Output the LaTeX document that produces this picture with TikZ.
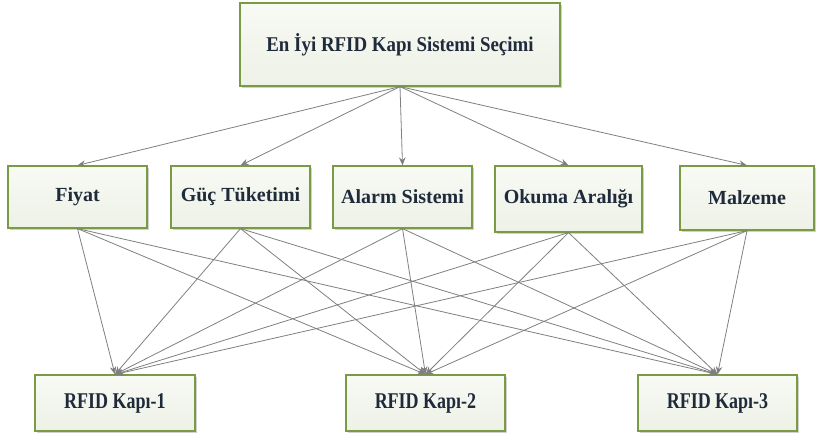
\documentclass[tikz,border=0pt]{standalone}
\usepackage{fontspec}
\setmainfont{Liberation Serif}
\newfontfamily\goalfont[FakeStretch=0.9]{Liberation Serif}
\newfontfamily\altfont[FakeStretch=0.8]{Liberation Serif}
\usetikzlibrary{arrows.meta,shadows}
\definecolor{boxborder}{HTML}{7A9A43}
\definecolor{boxtop}{HTML}{F8FAF4}
\definecolor{boxbottom}{HTML}{EDF1E6}
\definecolor{linkgray}{HTML}{7F7F7F}
\definecolor{textdark}{HTML}{1F2A3A}
\begin{document}
\begin{tikzpicture}[x=1pt,y=-1pt,
  box/.style={draw=boxborder,line width=1.2pt,top color=boxtop,bottom color=boxbottom,
    drop shadow={shadow xshift=1.6pt,shadow yshift=-1.6pt,fill=black!30,opacity=0.6},
    text=textdark,inner sep=0pt,align=center},
  critbox/.style={box,font=\bfseries\fontsize{20}{24}\selectfont},
  altbox/.style={box,minimum height=56pt,font=\altfont\bfseries\fontsize{22.5}{26}\selectfont},
  link/.style={draw=linkgray,line width=0.8pt,-{Stealth[length=8pt,width=6.5pt]}}]
\useasboundingbox (0,0) rectangle (816,439);
% goal
\node[box,minimum width=320pt,minimum height=83pt,font=\goalfont\bfseries\fontsize{21}{25}\selectfont] (root) at (400,44.5) {En İyi RFID Kapı Sistemi Seçimi};
% criteria
\node[critbox,minimum width=139pt,minimum height=62pt] (fiyat) at (77.5,197) {Fiyat};
\node[critbox,minimum width=139pt,minimum height=62pt] (guc) at (240.5,197) {Güç Tüketimi};
\node[critbox,minimum width=139pt,minimum height=62pt] (alarm) at (402.5,197) {Alarm Sistemi};
\node[critbox,minimum width=147pt,minimum height=66pt] (okuma) at (568.5,199) {Okuma Aralığı};
\node[critbox,minimum width=134pt,minimum height=64pt] (malz) at (747,198) {Malzeme};
% alternatives
\node[altbox,minimum width=160pt] (k1) at (115,403) {RFID Kapı-1};
\node[altbox,minimum width=159pt] (k2) at (425.5,403) {RFID Kapı-2};
\node[altbox,minimum width=159pt] (k3) at (717.5,403) {RFID Kapı-3};
% goal to criteria
\foreach \c in {fiyat,guc,alarm,okuma,malz}
  \draw[link] (root.south) -- (\c.north);
% criteria to alternatives
\foreach \c in {fiyat,guc,alarm,okuma,malz}
  \foreach \a in {k1,k2,k3}
    \draw[link] (\c.south) -- (\a.north);
\end{tikzpicture}
\end{document}
